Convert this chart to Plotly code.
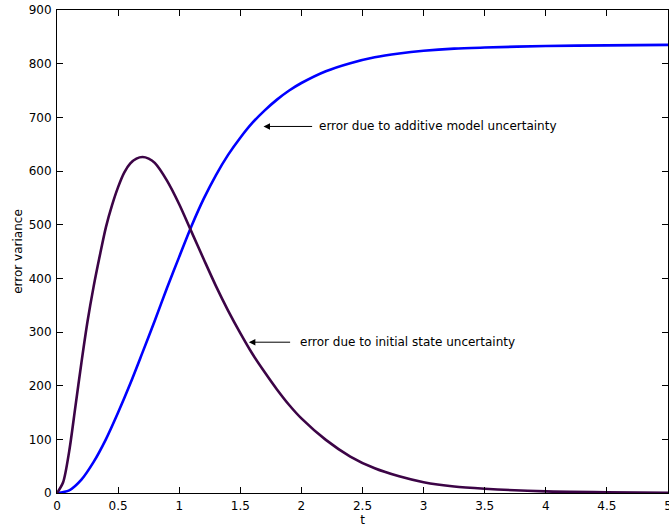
import plotly.graph_objects as go

# ---- data ----
t_additive = [0, 0.1, 0.2, 0.3, 0.4, 0.5, 0.6, 0.7, 0.8, 0.9, 1.0, 1.1, 1.2, 1.3, 1.4,
              1.5, 1.6, 1.7, 1.8, 1.9, 2.0, 2.2, 2.4, 2.6, 2.8, 3.0, 3.25, 3.5, 4.0, 4.5, 5.0]
var_additive = [0, 5, 25, 58, 100, 150, 204, 262, 321, 382, 440, 497, 548, 592, 630,
                662, 690, 713, 733, 750, 764, 786, 801, 812, 819, 824, 828, 830, 833, 834, 835]

t_initial = [0, 0.05, 0.1, 0.15, 0.2, 0.25, 0.3, 0.35, 0.4, 0.45, 0.5, 0.55, 0.6, 0.65, 0.7,
             0.75, 0.8, 0.9, 1.0, 1.1, 1.2, 1.3, 1.4, 1.5, 1.6, 1.7, 1.8, 1.9, 2.0, 2.2,
             2.4, 2.6, 2.8, 3.0, 3.25, 3.5, 4.0, 4.5, 5.0]
var_initial = [0, 20, 78, 160, 243, 320, 385, 442, 495, 536, 570, 597, 614, 623, 626,
               623, 615, 582, 538, 487, 436, 386, 340, 298, 259, 225, 193, 164, 139, 99,
               68, 46, 31, 20, 12, 8, 3, 1.5, 0.5]

x_ticks = [0, 0.5, 1, 1.5, 2, 2.5, 3, 3.5, 4, 4.5, 5]
y_ticks = [0, 100, 200, 300, 400, 500, 600, 700, 800, 900]

label_additive = "error due to additive model uncertainty"
label_initial = "error due to initial state uncertainty"
# annotation anchor points (tip of arrow, tail of arrow, text start)
ann_additive = dict(tip=(1.69, 683), tail=(2.10, 683), text=(2.13, 683))
ann_initial = dict(tip=(1.57, 281), tail=(1.92, 281), text=(1.97, 281))

FONT = "DejaVu Sans"

fig = go.Figure()
fig.add_trace(go.Scatter(x=t_additive, y=var_additive, mode="lines",
                         line=dict(color="#0000ff", width=2.6, shape="spline", smoothing=0.8),
                         showlegend=False, hoverinfo="skip"))
fig.add_trace(go.Scatter(x=t_initial, y=var_initial, mode="lines",
                         line=dict(color="rgb(60,4,70)", width=2.6, shape="spline", smoothing=0.8),
                         showlegend=False, hoverinfo="skip"))

for ann, label in ((ann_additive, label_additive), (ann_initial, label_initial)):
    fig.add_annotation(x=ann["tip"][0], y=ann["tip"][1], ax=ann["tail"][0], ay=ann["tail"][1],
                       xref="x", yref="y", axref="x", ayref="y", text="",
                       showarrow=True, arrowhead=2, arrowsize=1.3, arrowwidth=1,
                       arrowcolor="black", standoff=0, startstandoff=0)
    fig.add_annotation(x=ann["text"][0], y=ann["text"][1], xref="x", yref="y",
                       text=label, showarrow=False, xanchor="left", yanchor="middle",
                       font=dict(family=FONT, size=12, color="black"))

axis_common = dict(showgrid=False, zeroline=False, showline=True, linecolor="black",
                   linewidth=1, mirror="ticks", ticks="inside", ticklen=6,
                   tickcolor="black", tickwidth=1,
                   tickfont=dict(family=FONT, size=12, color="black"))

fig.update_xaxes(range=[0, 5], tickvals=x_ticks, ticktext=[f"{v:g}" for v in x_ticks],
                 title=dict(text="t", font=dict(family=FONT, size=12, color="black"), standoff=3),
                 ticklabelstandoff=2, **axis_common)
fig.update_yaxes(range=[0, 900], tickvals=y_ticks, ticktext=[str(v) for v in y_ticks],
                 title=dict(text="error variance", font=dict(family=FONT, size=12, color="black"),
                            standoff=3),
                 ticklabelstandoff=2, **axis_common)

fig.update_layout(width=675, height=531, margin=dict(l=57, r=3, t=7, b=38, pad=0),
                  paper_bgcolor="white", plot_bgcolor="white", autosize=False)

post = ("document.documentElement.style.overflow='hidden';"
        "document.body.style.overflow='hidden';document.body.style.margin='0';")
fig.write_html("out.html", post_script=post)
